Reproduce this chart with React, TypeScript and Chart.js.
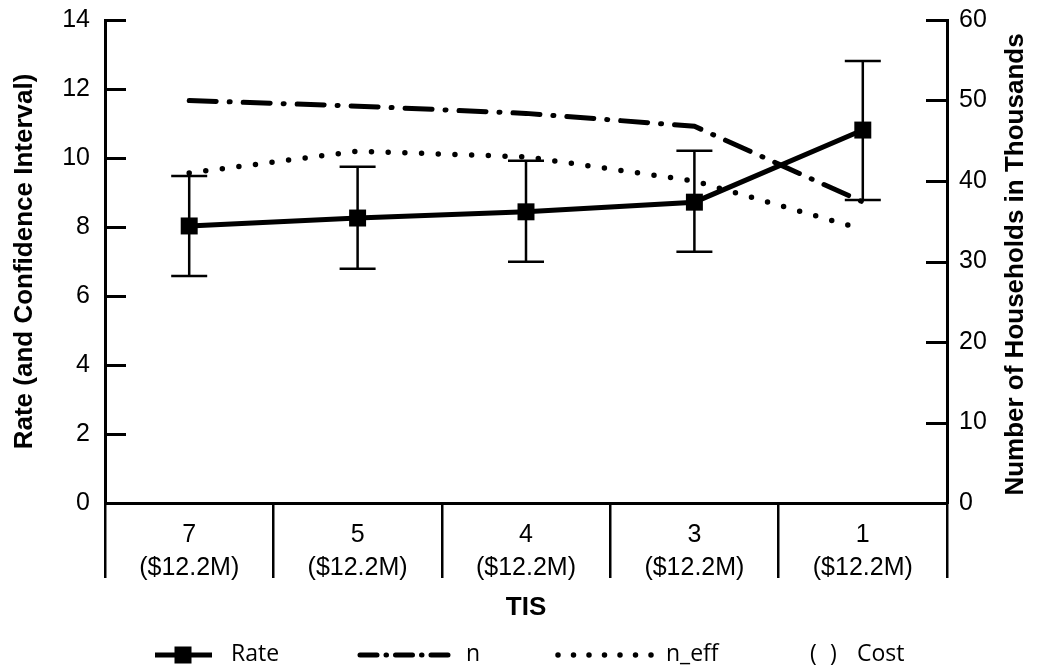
import React, { useEffect, useRef } from 'react';
import { Chart, registerables } from 'chart.js';

Chart.register(...registerables);

// ---- data ----
const tisLabels = ['7', '5', '4', '3', '1'];
const costLabels = ['($12.2M)', '($12.2M)', '($12.2M)', '($12.2M)', '($12.2M)'];
const rate = [8.03, 8.26, 8.44, 8.72, 10.81];
const rateLow = [6.58, 6.79, 6.99, 7.28, 8.78];
const rateHigh = [9.48, 9.75, 9.92, 10.21, 12.81];
const nValues = [50.0, 49.3, 48.4, 46.8, 37.4];
const nEffValues = [41.0, 43.7, 43.0, 40.0, 34.0];
const legendLabels = ['Rate', 'n', 'n_eff', 'Cost'];

const FONT = '"Liberation Sans", Arial, Helvetica, sans-serif';
const LEGEND_FONT = '"Open Sans", "Noto Sans", sans-serif';

const errorBarsPlugin = {
  id: 'errorBars',
  beforeDatasetsDraw(chart: any) {
    const { ctx } = chart;
    const xs = chart.scales.x;
    const ys = chart.scales.y;
    ctx.save();
    ctx.strokeStyle = '#000';
    ctx.lineWidth = 2.5;
    rate.forEach((_, i) => {
      const px = xs.getPixelForValue(i);
      const yl = ys.getPixelForValue(rateLow[i]);
      const yh = ys.getPixelForValue(rateHigh[i]);
      ctx.beginPath();
      ctx.moveTo(px, yl);
      ctx.lineTo(px, yh);
      ctx.moveTo(px - 18, yl);
      ctx.lineTo(px + 18, yl);
      ctx.moveTo(px - 18, yh);
      ctx.lineTo(px + 18, yh);
      ctx.stroke();
    });
    ctx.restore();
  },
};

const decorPlugin = {
  id: 'decor',
  afterDraw(chart: any) {
    const { ctx, chartArea } = chart;
    const ys = chart.scales.y;
    const y1 = chart.scales.y1;
    ctx.save();
    ctx.strokeStyle = '#000';
    ctx.lineWidth = 3;
    // inward tick marks
    ys.ticks.forEach((t: any) => {
      const py = Math.round(ys.getPixelForValue(t.value)) + 0.5;
      ctx.beginPath();
      ctx.moveTo(chartArea.left, py);
      ctx.lineTo(chartArea.left + 21, py);
      ctx.stroke();
    });
    y1.ticks.forEach((t: any) => {
      const py = Math.round(y1.getPixelForValue(t.value)) + 0.5;
      ctx.beginPath();
      ctx.moveTo(chartArea.right, py);
      ctx.lineTo(chartArea.right - 21, py);
      ctx.stroke();
    });

    // right axis title (reads bottom-to-top)
    ctx.save();
    ctx.translate(1016, (chartArea.top + chartArea.bottom) / 2 + 3);
    ctx.rotate(-Math.PI / 2);
    ctx.fillStyle = '#000';
    ctx.font = `bold 26px ${FONT}`;
    ctx.textAlign = 'center';
    ctx.textBaseline = 'middle';
    ctx.fillText('Number of Households in Thousands', 0, 0);
    ctx.restore();

    // legend
    const ly = 655;
    ctx.fillStyle = '#000';
    ctx.font = `23px ${LEGEND_FONT}`;
    ctx.textBaseline = 'middle';
    ctx.textAlign = 'left';
    // Rate
    ctx.lineWidth = 5;
    ctx.setLineDash([]);
    ctx.beginPath();
    ctx.moveTo(155, ly);
    ctx.lineTo(212, ly);
    ctx.stroke();
    ctx.fillRect(183 - 8.5, ly - 8.5, 17, 17);
    ctx.fillText(legendLabels[0], 231, ly - 1);
    // n
    ctx.lineCap = 'round';
    ctx.setLineDash([17, 9, 0.5, 9]);
    ctx.beginPath();
    ctx.moveTo(360, ly);
    ctx.lineTo(448, ly);
    ctx.stroke();
    ctx.fillText(legendLabels[1], 466, ly - 1);
    // n_eff
    ctx.setLineDash([0, 15.5]);
    ctx.lineWidth = 5.5;
    ctx.beginPath();
    ctx.moveTo(558, ly);
    ctx.lineTo(652, ly);
    ctx.stroke();
    ctx.fillText(legendLabels[2], 666, ly - 1);
    // Cost
    ctx.setLineDash([]);
    ctx.fillText('(', 810, ly - 1);
    ctx.fillText(')', 830, ly - 1);
    ctx.fillText(legendLabels[3], 857, ly - 1);
    ctx.restore();
  },
};

export default function App() {
  const ref = useRef<HTMLCanvasElement | null>(null);

  useEffect(() => {
    if (!ref.current) return;
    const chart = new Chart(ref.current, {
      type: 'line',
      data: {
        labels: tisLabels.map((t, i) => [t, costLabels[i]]),
        datasets: [
          {
            label: 'Rate',
            data: rate,
            yAxisID: 'y',
            borderColor: '#000',
            backgroundColor: '#000',
            borderWidth: 5,
            pointStyle: 'rect',
            pointRadius: 12,
            pointBorderWidth: 0,
            pointBackgroundColor: '#000',
            tension: 0,
          },
          {
            label: 'n',
            data: nValues,
            yAxisID: 'y1',
            borderColor: '#000',
            borderWidth: 5,
            borderDash: [27, 13, 1, 13],
            borderCapStyle: 'round',
            pointRadius: 0,
            tension: 0,
          },
          {
            label: 'n_eff',
            data: nEffValues,
            yAxisID: 'y1',
            borderColor: '#000',
            borderWidth: 5.5,
            borderDash: [0, 16.7],
            borderCapStyle: 'round',
            pointRadius: 0,
            tension: 0,
          },
        ],
      },
      options: {
        responsive: false,
        animation: false,
        devicePixelRatio: 1,
        layout: { padding: { top: 20, left: 0, right: 0, bottom: 0 } },
        plugins: { legend: { display: false }, tooltip: { enabled: false } },
        scales: {
          x: {
            type: 'category',
            offset: true,
            grid: {
              offset: true,
              drawOnChartArea: false,
              drawTicks: true,
              tickLength: 75,
              color: '#000',
              lineWidth: 2.5,
            },
            border: { display: true, color: '#000', width: 3 },
            ticks: {
              color: '#000',
              font: { family: FONT, size: 25, lineHeight: 33 / 25 },
              padding: -59.5,
              maxRotation: 0,
              autoSkip: false,
            },
            title: {
              display: true,
              text: 'TIS',
              color: '#000',
              font: { family: FONT, size: 26, weight: 'bold' },
              padding: { top: 0, bottom: 46 },
            },
            afterFit: (s: any) => {
              s.height = 166;
              s.paddingLeft = 0;
              s.paddingRight = 0;
            },
          },
          y: {
            type: 'linear',
            position: 'left',
            min: 0,
            max: 14,
            ticks: {
              stepSize: 2,
              color: '#000',
              font: { family: FONT, size: 25 },
              padding: 15,
            },
            grid: { drawOnChartArea: false, drawTicks: false },
            border: { display: true, color: '#000', width: 3 },
            title: {
              display: true,
              text: 'Rate (and Confidence Interval)',
              color: '#000',
              font: { family: FONT, size: 26, weight: 'bold' },
              padding: { top: 9, bottom: 0 },
            },
            afterFit: (s: any) => {
              s.width = 105;
              s.paddingTop = 0;
              s.paddingBottom = 0;
            },
          },
          y1: {
            type: 'linear',
            position: 'right',
            min: 0,
            max: 60,
            ticks: {
              stepSize: 10,
              color: '#000',
              font: { family: FONT, size: 25 },
              padding: 12,
            },
            grid: { drawOnChartArea: false, drawTicks: false },
            border: { display: true, color: '#000', width: 3 },
            afterFit: (s: any) => {
              s.width = 90;
              s.paddingTop = 0;
              s.paddingBottom = 0;
            },
          },
        },
      },
      plugins: [errorBarsPlugin, decorPlugin],
    } as any);
    return () => chart.destroy();
  }, []);

  return (
    <div style={{ position: 'absolute', left: 0, top: 0, width: 1037, height: 669, background: '#fff' }}>
      <canvas ref={ref} width={1037} height={669} style={{ display: 'block' }} />
    </div>
  );
}
